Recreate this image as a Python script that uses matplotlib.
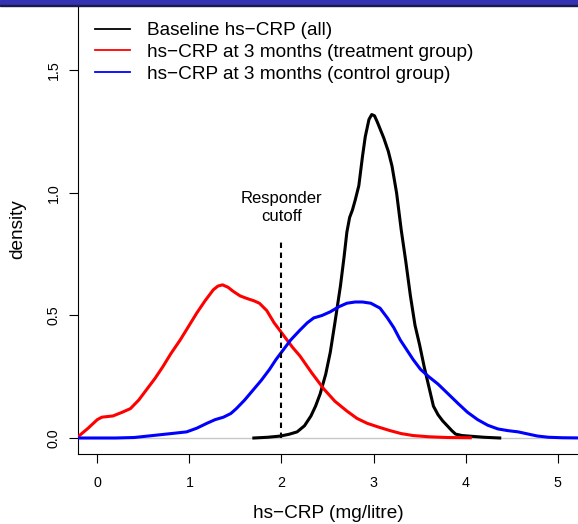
import numpy as np
import matplotlib
matplotlib.use("Agg")
import matplotlib.pyplot as plt
from matplotlib.lines import Line2D
from matplotlib.patches import Rectangle

plt.rcParams['font.family'] = ['Liberation Sans', 'DejaVu Sans']

# density curves (x in mg/litre, y = density)
base_x = [1.70, 1.85, 1.99, 2.08, 2.17, 2.25, 2.32, 2.37, 2.42, 2.48, 2.53, 2.58,
          2.64, 2.68, 2.71, 2.74, 2.77, 2.80, 2.84, 2.88, 2.91, 2.95, 2.98, 3.01,
          3.04, 3.11, 3.16, 3.20, 3.25, 3.30, 3.35, 3.40, 3.45, 3.50, 3.55, 3.60,
          3.65, 3.70, 3.75, 3.80, 3.85, 3.89, 3.96, 4.03, 4.20, 4.37]
base_y = [0.0, 0.003, 0.008, 0.015, 0.025, 0.05, 0.09, 0.13, 0.18, 0.26, 0.35, 0.47,
          0.62, 0.74, 0.84, 0.90, 0.93, 0.97, 1.03, 1.15, 1.23, 1.30, 1.32, 1.315,
          1.29, 1.225, 1.17, 1.11, 1.0, 0.85, 0.72, 0.58, 0.46, 0.38, 0.29, 0.21,
          0.13, 0.095, 0.07, 0.05, 0.03, 0.016, 0.01, 0.008, 0.003, 0.0]

treat_x = [-0.21, -0.1, 0.0, 0.05, 0.17, 0.27, 0.36, 0.45, 0.54, 0.63, 0.71, 0.80,
           0.90, 0.99, 1.08, 1.17, 1.26, 1.31, 1.36, 1.42, 1.47, 1.55, 1.62, 1.70,
           1.76, 1.84, 1.92, 1.98, 2.05, 2.12, 2.20, 2.33, 2.46, 2.58, 2.71, 2.82,
           2.93, 3.05, 3.18, 3.30, 3.43, 3.60, 3.80, 4.05]
treat_y = [0.005, 0.04, 0.075, 0.085, 0.09, 0.105, 0.12, 0.155, 0.20, 0.245, 0.29, 0.345,
           0.40, 0.455, 0.51, 0.56, 0.605, 0.62, 0.625, 0.615, 0.60, 0.58, 0.57, 0.56,
           0.55, 0.52, 0.47, 0.44, 0.405, 0.37, 0.335, 0.265, 0.20, 0.15, 0.11, 0.08,
           0.06, 0.045, 0.03, 0.018, 0.01, 0.005, 0.002, 0.001]

ctrl_x = [-0.21, 0.2, 0.4, 0.6, 0.8, 0.97, 1.08, 1.19, 1.28, 1.37, 1.45, 1.51,
          1.60, 1.69, 1.78, 1.87, 1.94, 2.01, 2.10, 2.20, 2.28, 2.35, 2.44, 2.53,
          2.62, 2.71, 2.80, 2.88, 2.97, 3.07, 3.15, 3.22, 3.29, 3.36, 3.43, 3.51,
          3.60, 3.70, 3.81, 3.92, 4.02, 4.13, 4.24, 4.35, 4.46, 4.57, 4.68, 4.78,
          4.90, 5.05, 5.30]
ctrl_y = [0.0, 0.0, 0.002, 0.01, 0.018, 0.025, 0.04, 0.06, 0.075, 0.085, 0.10, 0.12,
          0.155, 0.195, 0.235, 0.28, 0.32, 0.355, 0.40, 0.44, 0.47, 0.49, 0.50, 0.515,
          0.535, 0.55, 0.555, 0.555, 0.55, 0.53, 0.49, 0.45, 0.40, 0.36, 0.32, 0.28,
          0.25, 0.22, 0.18, 0.14, 0.105, 0.075, 0.052, 0.037, 0.03, 0.025, 0.016, 0.008,
          0.003, 0.001, 0.0]

cutoff = 2.0
cutoff_top = 0.8
labels = ["Baseline hs\u2212CRP (all)",
          "hs\u2212CRP at 3 months (treatment group)",
          "hs\u2212CRP at 3 months (control group)"]
colors = ["black", "red", "blue"]
x_ticks = [0, 1, 2, 3, 4, 5]
y_ticks = [0.0, 0.5, 1.0, 1.5]
y_tick_labels = ["0.0", "0.5", "1.0", "1.5"]

W, H = 578, 524
fig = plt.figure(figsize=(W / 100, H / 100), dpi=100)
ax = fig.add_axes([78.3 / W, (H - 454) / H, (W - 78.3) / W, (454 - 5) / H])

ax.axhline(0, color='#c8c8c8', lw=1, zorder=1)
ax.plot(base_x, base_y, color=colors[0], lw=2.2, zorder=3)
ax.plot(treat_x, treat_y, color=colors[1], lw=2.2, zorder=3)
ax.plot(ctrl_x, ctrl_y, color=colors[2], lw=2.2, zorder=3)

ax.plot([cutoff, cutoff], [0, cutoff_top], color='black', lw=1.5,
        ls=(0, (2.6, 2.2)), zorder=4)
ax.text(cutoff, 0.94, "Responder\ncutoff", ha='center', va='center',
        fontsize=12, linespacing=1.25)

ax.set_xlim(-0.2065, 5.22)
ax.set_ylim(-0.0653, 1.767)
ax.set_xticks(x_ticks)
ax.set_yticks(y_ticks)
ax.set_yticklabels(y_tick_labels)
ax.tick_params(direction='out', length=6.5, width=0.8, labelsize=10.3)
ax.tick_params(axis='x', pad=9)
ax.tick_params(axis='y', pad=6)
for lbl in ax.get_yticklabels():
    lbl.set_rotation(90)
    lbl.set_va('center')

ax.spines['right'].set_visible(False)
ax.spines['top'].set_visible(False)
ax.spines['left'].set_linewidth(0.8)
ax.spines['bottom'].set_linewidth(0.8)

ax.set_xlabel("hs\u2212CRP (mg/litre)", fontsize=13.7, labelpad=11)
ax.set_ylabel("density", fontsize=13.7, labelpad=15)

handles = [Line2D([], [], color=c, lw=1.3) for c in colors]
ax.legend(handles, labels, loc='upper left', bbox_to_anchor=(95 / W, 1 - 22 / H),
          bbox_transform=fig.transFigure, frameon=False, fontsize=13.7,
          handlelength=1.84, handletextpad=0.89, labelspacing=0.23,
          borderpad=0, borderaxespad=0)

# slide header band across the top
fig.patches.append(Rectangle((0, 1 - 4.5 / H), 1, 4.5 / H, transform=fig.transFigure,
                             color='#3333B3', zorder=10))
fig.patches.append(Rectangle((0, 1 - 5.5 / H), 1, 1.0 / H, transform=fig.transFigure,
                             color='#1a1a50', zorder=10))

fig.savefig("out.png", dpi=100)
